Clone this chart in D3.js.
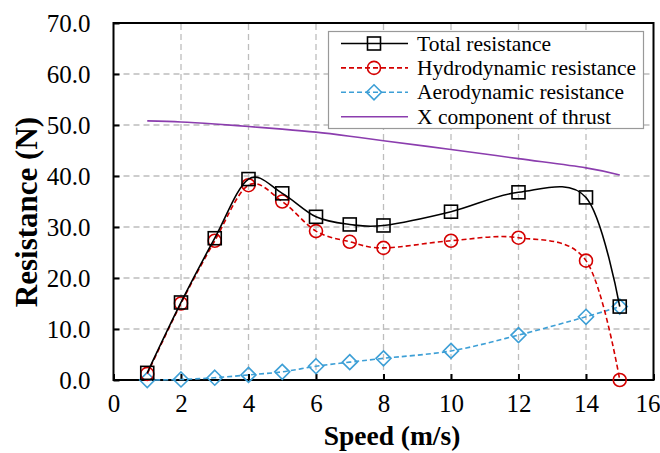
<!DOCTYPE html>
<html>
<head>
<meta charset="utf-8">
<script src="https://cdn.jsdelivr.net/npm/d3@7"></script>
<style>
  body { margin: 0; background: #fff; }
  text { font-family: "Liberation Serif", "Times New Roman", serif; }
</style>
</head>
<body>
<div class="chart"></div>
<script>
// data
const speeds = [1, 2, 3, 4, 5, 6, 7, 8, 10, 12, 14, 15];
const totalRes = [1.4, 15.2, 27.8, 39.4, 36.6, 32.0, 30.5, 30.3, 33.0, 36.8, 35.8, 14.4];
const hydroRes = [1.2, 15.0, 27.3, 38.2, 35.0, 29.2, 27.1, 25.9, 27.3, 27.9, 23.4, 0.0];
const aeroRes = [0.0, 0.1, 0.45, 1.0, 1.6, 2.7, 3.5, 4.25, 5.7, 8.8, 12.4, 14.4];
const thrustX = [50.8, 50.6, 50.2, 49.7, 49.2, 48.6, 47.8, 46.9, 45.2, 43.4, 41.6, 40.2];

const xTicks = [0, 2, 4, 6, 8, 10, 12, 14, 16];
const yTicks = [0, 10, 20, 30, 40, 50, 60, 70];

const seriesNames = ["Total resistance", "Hydrodynamic resistance", "Aerodynamic resistance", "X component of thrust"];

const width = 660, height = 453;
const margin = { top: 23, right: 6.5, bottom: 73, left: 113.5 };

const svg = d3.select(".chart")
  .append("svg")
  .attr("width", width)
  .attr("height", height);

svg.append("rect").attr("width", width).attr("height", height).attr("fill", "#fff");

const x = d3.scaleLinear().domain([0, 16]).range([margin.left, width - margin.right]);
const y = d3.scaleLinear().domain([0, 70]).range([height - margin.bottom, margin.top]);

// gridlines (dashed grey)
const grid = svg.append("g");
grid.selectAll("line.vg")
  .data(xTicks.slice(1, -1))
  .enter().append("line")
  .attr("x1", d => x(d)).attr("x2", d => x(d))
  .attr("y1", y(0)).attr("y2", y(70))
  .attr("stroke", "#bdbdbd").attr("stroke-width", 1.3)
  .attr("stroke-dasharray", "6,4");
grid.selectAll("line.hg")
  .data(yTicks.slice(1, -1))
  .enter().append("line")
  .attr("y1", d => y(d)).attr("y2", d => y(d))
  .attr("x1", x(0)).attr("x2", x(16))
  .attr("stroke", "#bdbdbd").attr("stroke-width", 1.3)
  .attr("stroke-dasharray", "6,4");

// axes - ticks point inward
const xAxis = d3.axisBottom(x).tickValues(xTicks).tickSize(-6).tickPadding(14).tickFormat(d3.format("d"));
const yAxis = d3.axisLeft(y).tickValues(yTicks).tickSize(-6).tickPadding(23).tickFormat(d3.format(".1f"));

const gx = svg.append("g").attr("transform", `translate(0,${y(0)})`).call(xAxis);
const gy = svg.append("g").attr("transform", `translate(${x(0)},0)`).call(yAxis);
[gx, gy].forEach(g => {
  g.select(".domain").remove();
  g.selectAll(".tick line").attr("stroke", "#000").attr("stroke-width", 2);
  g.selectAll(".tick text").attr("fill", "#000").style("font-size", "25px")
    .style("font-family", "'Liberation Serif', serif");
});
// keep the last x label inside the picture
gx.selectAll(".tick text").filter(d => d === 16).attr("x", -6);

// plot frame
svg.append("rect")
  .attr("x", x(0)).attr("y", y(70))
  .attr("width", x(16) - x(0)).attr("height", y(0) - y(70))
  .attr("fill", "none").attr("stroke", "#000").attr("stroke-width", 2);

// axis titles
svg.append("text")
  .attr("x", 392).attr("y", 445)
  .attr("text-anchor", "middle")
  .style("font-size", "27.5px").style("font-weight", "bold")
  .text("Speed (m/s)");
svg.append("text")
  .attr("transform", `translate(37,212) rotate(-90)`)
  .attr("text-anchor", "middle")
  .style("font-size", "31px").style("font-weight", "bold")
  .text("Resistance (N)");

const smooth = d3.line()
  .x(d => x(d[0])).y(d => y(d[1]))
  .curve(d3.curveCatmullRom.alpha(0));

const zip = vals => speeds.map((s, i) => [s, vals[i]]);

const styles = [
  { vals: thrustX, color: "#8b3dae", dash: null, marker: null },
  { vals: aeroRes, color: "#3d9fd6", dash: "5,3", marker: "diamond" },
  { vals: hydroRes, color: "#d40000", dash: "5,3", marker: "circle" },
  { vals: totalRes, color: "#000", dash: null, marker: "square" }
];

function drawMarker(g, type, color, cx, cy) {
  if (type === "square") {
    g.append("rect").attr("x", cx - 6.5).attr("y", cy - 6.5).attr("width", 13).attr("height", 13)
      .attr("fill", "none").attr("stroke", color).attr("stroke-width", 1.6);
  } else if (type === "circle") {
    g.append("circle").attr("cx", cx).attr("cy", cy).attr("r", 6.5)
      .attr("fill", "none").attr("stroke", color).attr("stroke-width", 1.6);
  } else if (type === "diamond") {
    g.append("path")
      .attr("d", `M${cx},${cy - 7.5}L${cx + 7.5},${cy}L${cx},${cy + 7.5}L${cx - 7.5},${cy}Z`)
      .attr("fill", "none").attr("stroke", color).attr("stroke-width", 1.6);
  }
}

styles.forEach(s => {
  const pts = zip(s.vals);
  const g = svg.append("g");
  g.append("path")
    .attr("d", smooth(pts))
    .attr("fill", "none")
    .attr("stroke", s.color)
    .attr("stroke-width", 1.6)
    .attr("stroke-dasharray", s.dash);
  if (s.marker) pts.forEach(p => drawMarker(g, s.marker, s.color, x(p[0]), y(p[1])));
});

// legend
const lg = svg.append("g");
lg.append("rect")
  .attr("x", 328.5).attr("y", 31.5).attr("width", 315).attr("height", 97)
  .attr("fill", "#fff").attr("stroke", "#999").attr("stroke-width", 1.2);
const legendOrder = [3, 2, 1, 0]; // total, hydro, aero, thrust
seriesNames.forEach((name, i) => {
  const s = styles[legendOrder[i]];
  const ly = 43.5 + i * 24.4;
  lg.append("line")
    .attr("x1", 341).attr("x2", 408).attr("y1", ly).attr("y2", ly)
    .attr("stroke", s.color).attr("stroke-width", 1.6)
    .attr("stroke-dasharray", s.dash);
  if (s.marker) drawMarker(lg, s.marker, s.color, 374, ly);
  lg.append("text")
    .attr("x", 417).attr("y", ly + 7)
    .style("font-size", "21.5px")
    .text(name);
});
</script>
</body>
</html>
